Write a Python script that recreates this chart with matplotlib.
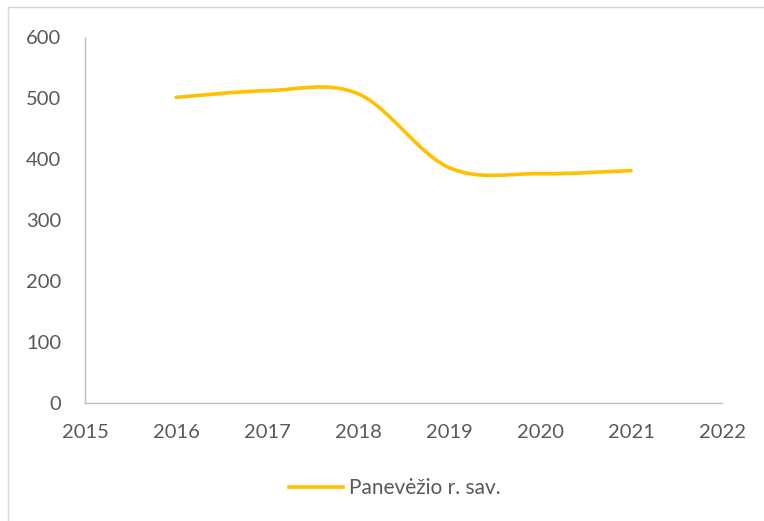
import matplotlib
matplotlib.use('Agg')
import matplotlib.pyplot as plt
from matplotlib.path import Path
from matplotlib.patches import PathPatch, Rectangle
from matplotlib.lines import Line2D

# Daten
metai = [2016, 2017, 2018, 2019, 2020, 2021]
reiksmes = [501, 512, 507, 386, 376, 381]
x_ticks = list(range(2015, 2023))
y_ticks = [0, 100, 200, 300, 400, 500, 600]
serijos_pavadinimas = 'Panevėžio r. sav.'

spalva = '#FFC000'
teksto_spalva = '#595959'
plt.rcParams['font.family'] = ['Lato', 'DejaVu Sans']

fig = plt.figure(figsize=(7.64, 5.21), dpi=100)
ax = fig.add_axes([85 / 764, 1 - 403 / 521, (722 - 85) / 764, (403 - 37) / 521])

# Rėmelis aplink diagramą
fig.patches.append(Rectangle((8 / 764, -0.1), 1.1, 1 - 7 / 521 + 0.1,
                             transform=fig.transFigure, fill=False,
                             edgecolor='#D9D9D9', linewidth=1))

# Išlyginta linija (Bezier kaip Excel)
n = len(metai)
verts = [(metai[0], reiksmes[0])]
codes = [Path.MOVETO]
for i in range(n - 1):
    x0, y0 = metai[i], reiksmes[i]
    x1, y1 = metai[i + 1], reiksmes[i + 1]
    xa, ya = (metai[i - 1], reiksmes[i - 1]) if i > 0 else (x0, y0)
    xb, yb = (metai[i + 2], reiksmes[i + 2]) if i + 2 < n else (x1, y1)
    c1 = (x0 + (x1 - xa) / 6, y0 + (y1 - ya) / 6)
    c2 = (x1 - (xb - x0) / 6, y1 - (yb - y0) / 6)
    verts += [c1, c2, (x1, y1)]
    codes += [Path.CURVE4] * 3
ax.add_patch(PathPatch(Path(verts, codes), fill=False, edgecolor=spalva,
                       linewidth=2.6, capstyle='round', joinstyle='round'))

ax.set_xlim(2015, 2022)
ax.set_ylim(0, 600)
ax.set_xticks(x_ticks)
ax.set_yticks(y_ticks)
ax.tick_params(length=0, labelsize=14.5, colors=teksto_spalva)
ax.tick_params(axis='x', pad=15)
ax.tick_params(axis='y', pad=17)

for s in ['top', 'right']:
    ax.spines[s].set_visible(False)
for s in ['left', 'bottom']:
    ax.spines[s].set_color('#BFBFBF')
    ax.spines[s].set_linewidth(1)

handle = Line2D([], [], color=spalva, linewidth=2.6)
fig.legend([handle], [serijos_pavadinimas], loc='center', bbox_to_anchor=(0.517, 1 - 488 / 521),
           frameon=False, fontsize=15, labelcolor=teksto_spalva,
           handlelength=2.55, handletextpad=0.3)

plt.savefig('out.png', dpi=100)
